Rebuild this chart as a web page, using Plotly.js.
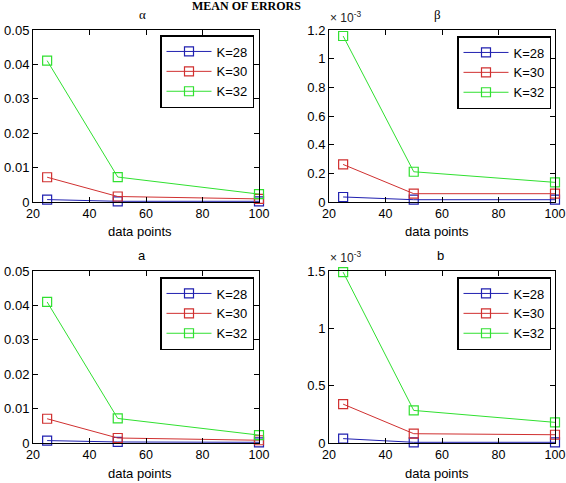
<!DOCTYPE html>
<html>
<head>
<meta charset="utf-8">
<script src="https://cdn.plot.ly/plotly-3.0.1.min.js"></script>
<style>html,body{margin:0;padding:0;background:#fff;}#chart{width:566px;height:483px;}</style>
</head>
<body>
<div id="chart"></div>
<script>
// Data
const dataPoints = [25, 50, 100];
const seriesNames = ['K=28', 'K=30', 'K=32'];
// alpha
const alphaK28 = [0.0007, 0.0002, 0.0002];
const alphaK30 = [0.0072, 0.0016, 0.0009];
const alphaK32 = [0.0411, 0.00725, 0.0023];
// beta (x 10^-3)
const betaK28 = [0.035, 0.016, 0.016];
const betaK30 = [0.262, 0.058, 0.058];
const betaK32 = [1.158, 0.211, 0.137];
// a
const aK28 = [0.0007, 0.0003, 0.0002];
const aK30 = [0.00705, 0.00145, 0.0008];
const aK32 = [0.041, 0.00714, 0.0023];
// b (x 10^-3)
const bK28 = [0.038, 0.006, 0.006];
const bK30 = [0.339, 0.081, 0.072];
const bK32 = [1.49, 0.284, 0.18];

const colors = ['#2020b0', '#d03030', '#30e030'];
const panels = [
  {series: [alphaK28, alphaK30, alphaK32], xa: 'x', ya: 'y', legend: 'legend'},
  {series: [betaK28, betaK30, betaK32], xa: 'x2', ya: 'y2', legend: 'legend2'},
  {series: [aK28, aK30, aK32], xa: 'x3', ya: 'y3', legend: 'legend3'},
  {series: [bK28, bK30, bK32], xa: 'x4', ya: 'y4', legend: 'legend4'}
];

const traces = [];
panels.forEach(p => {
  p.series.forEach((vals, i) => {
    traces.push({
      x: dataPoints, y: vals, name: seriesNames[i],
      xaxis: p.xa, yaxis: p.ya, legend: p.legend,
      mode: 'lines+markers', type: 'scatter',
      line: {color: colors[i], width: 1},
      marker: {symbol: 'square-open', size: 9, color: colors[i], line: {width: 1.2, color: colors[i]}},
      cliponaxis: false
    });
  });
});

const W = 566, H = 483;
const fx = v => v / W;
const fy = v => 1 - v / H;
const fnt = {family: 'Liberation Sans, Arial, sans-serif', size: 13, color: '#000'};
const xFnt = {family: 'Liberation Sans, Arial, sans-serif', size: 12.5, color: '#000'};
const legFnt = {family: 'Liberation Sans, Arial, sans-serif', size: 13, color: '#000'};

function xax(l, r, anchor) {
  return {domain: [fx(l), fx(r)], anchor: anchor, range: [20, 100], tickvals: [20, 40, 60, 80, 100],
    ticks: 'inside', ticklen: 5, tickcolor: '#000', showline: true, linecolor: '#000', linewidth: 1,
    mirror: 'ticks', showgrid: false, zeroline: false, tickfont: xFnt, fixedrange: true,
    ticklabeloverflow: 'allow'};
}
function yax(t, b, anchor, range, dtick) {
  return {domain: [fy(b), fy(t)], anchor: anchor, range: range, dtick: dtick, tick0: 0,
    ticks: 'inside', ticklen: 5, tickcolor: '#000', showline: true, linecolor: '#000', linewidth: 1,
    mirror: 'ticks', showgrid: false, zeroline: false, tickfont: fnt, fixedrange: true,
    ticklabeloverflow: 'allow'};
}
function leg(l, t) {
  return {x: fx(l), y: fy(t), xanchor: 'left', yanchor: 'top', bordercolor: '#000', borderwidth: 1.5,
    bgcolor: '#fff', font: legFnt, tracegroupgap: 0, itemwidth: 45};
}
function ann(text, x, y, font, xanchor) {
  return {text: text, x: fx(x), y: fy(y), xref: 'paper', yref: 'paper', xanchor: xanchor || 'center',
    yanchor: 'middle', showarrow: false, font: font || fnt};
}

const layout = {
  width: W, height: H, margin: {l: 0, r: 0, t: 0, b: 0},
  paper_bgcolor: '#fff', plot_bgcolor: '#fff', showlegend: true,
  xaxis: xax(33, 259, 'y'), yaxis: yax(30, 202, 'x', [0, 0.05], 0.01),
  xaxis2: xax(329, 555, 'y2'), yaxis2: yax(30, 202, 'x2', [0, 1.2], 0.2),
  xaxis3: xax(33, 259, 'y3'), yaxis3: yax(271, 443, 'x3', [0, 0.05], 0.01),
  xaxis4: xax(329, 555, 'y4'), yaxis4: yax(271, 443, 'x4', [0, 1.5], 0.5),
  legend: leg(160, 35), legend2: leg(457, 36), legend3: leg(160, 277), legend4: leg(457, 277),
  annotations: [
    ann('<b>MEAN OF ERRORS</b>', 246, 6, {family: 'Liberation Serif, Times New Roman, serif', size: 12, color: '#000'}),
    ann('α', 142, 15, {family: 'Liberation Serif, serif', size: 13, color: '#000'}),
    ann('β', 437, 15, {family: 'Liberation Serif, serif', size: 13, color: '#000'}),
    ann('a', 142, 255),
    ann('b', 440, 255),
    ann('× 10<sup>-3</sup>', 328, 17, {family: 'Liberation Sans, Arial, sans-serif', size: 12, color: '#222'}, 'left'),
    ann('× 10<sup>-3</sup>', 328, 257, {family: 'Liberation Sans, Arial, sans-serif', size: 12, color: '#222'}, 'left'),
    ann('data points', 140, 232),
    ann('data points', 437, 232),
    ann('data points', 140, 473),
    ann('data points', 437, 473)
  ]
};

Plotly.newPlot('chart', traces, layout, {displayModeBar: false, staticPlot: true});
</script>
</body>
</html>
